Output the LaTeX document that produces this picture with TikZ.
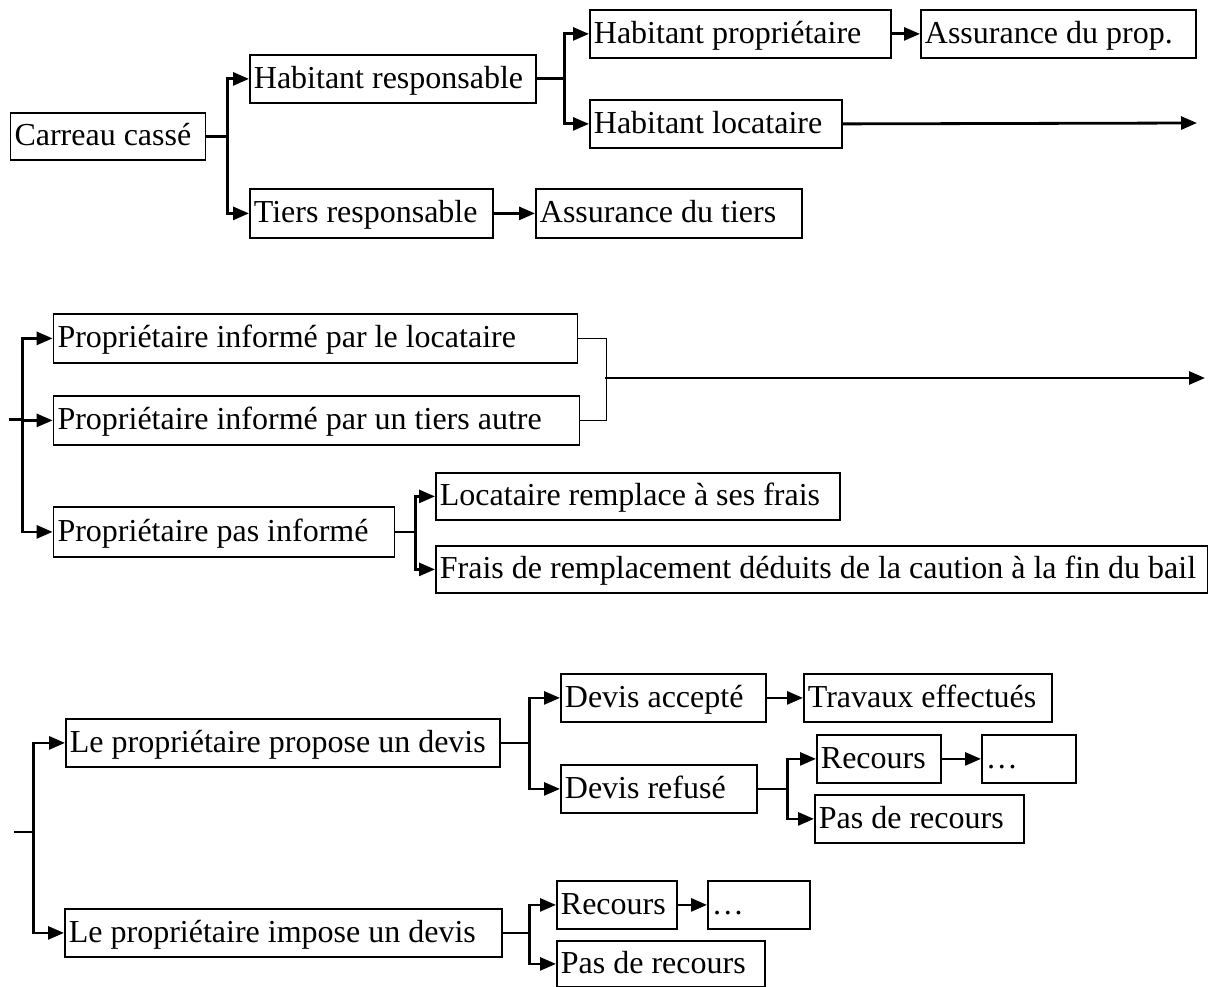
\documentclass[tikz,border=0pt]{standalone}
\usepackage{fontspec}
\setmainfont{Liberation Serif}
\usetikzlibrary{arrows.meta}
\newcommand\lbx[2]{\makebox[#1pt][l]{#2}}
\begin{document}
\begin{tikzpicture}[x=1pt,y=-1pt,
  bx/.style={draw, line width=1.8pt, inner xsep=4pt, inner ysep=0pt, anchor=north west,
    font=\fontsize{32}{38}\selectfont, text height=26pt, text depth=7pt},
  conn/.style={line width=2.8pt},
  thinconn/.style={line width=1.6pt},
  arr/.style={line width=2.8pt, -{Triangle[length=16pt,width=13pt]}},
]
\useasboundingbox (0,0) rectangle (1208,987);

% Section 1
\node[bx, minimum height=47pt] (carreau) at (9.6,112) {\lbx{187}{Carreau cassé}};
\node[bx, minimum height=48pt] (hresp) at (249,54) {\lbx{278}{Habitant responsable}};
\node[bx, minimum height=49pt] (tiers) at (249,188) {\lbx{235}{Tiers responsable}};
\node[bx, minimum height=49pt] (asstiers) at (535,188) {\lbx{258}{Assurance du tiers}};
\node[bx, minimum height=48pt] (hprop) at (589,9) {\lbx{293}{Habitant propriétaire}};
\node[bx, minimum height=48pt] (assprop) at (920,9) {\lbx{267}{Assurance du prop.}};
\node[bx, minimum height=48pt] (hloc) at (589,99) {\lbx{244}{Habitant locataire}};

\draw[arr] (carreau.east) -- ++(21,0) |- (hresp.west);
\draw[arr] (carreau.east) -- ++(21,0) |- (tiers.west);
\draw[arr] (tiers.east) -- (asstiers.west);
\draw[arr] (hresp.east) -- ++(28,0) |- (hprop.west);
\draw[arr] (hresp.east) -- ++(28,0) |- (hloc.west);
\draw[arr] (hprop.east) -- (assprop.west);
\coordinate (e1) at (1197,123);
\draw[arr] (hloc.east) -- (e1);

% Section 2
\node[bx, minimum height=49pt] (pil) at (52.6,313) {\lbx{516}{Propriétaire informé par le locataire}};
\node[bx, minimum height=49pt] (pit) at (52.6,395) {\lbx{518}{Propriétaire informé par un tiers autre}};
\node[bx, minimum height=50pt] (ppi) at (52.6,506) {\lbx{333}{Propriétaire pas informé}};
\node[bx, minimum height=47pt] (lrem) at (435,472) {\lbx{396}{Locataire remplace à ses frais}};
\node[bx, minimum height=47pt] (frais) at (435,545) {\lbx{764}{Frais de remplacement déduits de la caution à la fin du bail}};

\coordinate (s2) at (8.7,419.5);
\coordinate (j2) at (22.5,419.5);
\draw[conn] (s2) -- (j2);
\draw[arr] (j2) |- (pil.west);
\draw[arr] (j2) |- (pit.west);
\draw[arr] (j2) |- (ppi.west);
\draw[thinconn] (pil.east) -- ++(28,0) |- (pit.east);
\coordinate (b2) at (605,378);
\coordinate (e2) at (1205,378);
\draw[arr] (b2) -- (e2);
\draw[arr] (ppi.east) -- ++(20,0) |- (lrem.west);
\draw[arr] (ppi.east) -- ++(20,0) |- (frais.west);

% Section 3
\node[bx, minimum height=48pt] (ppd) at (65,718) {\lbx{426}{Le propriétaire propose un devis}};
\node[bx, minimum height=48pt] (pid) at (64,908) {\lbx{429}{Le propriétaire impose un devis}};
\node[bx, minimum height=48pt] (dacc) at (560,673) {\lbx{197}{Devis accepté}};
\node[bx, minimum height=48pt] (trav) at (803,673) {\lbx{240}{Travaux effectués}};
\node[bx, minimum height=48pt] (dref) at (560,764) {\lbx{188}{Devis refusé}};
\node[bx, minimum height=48pt] (rec1) at (816,734) {\lbx{116}{Recours}};
\node[bx, minimum height=48pt] (dots1) at (981,734) {\lbx{86}{…}};
\node[bx, minimum height=48pt] (pdr1) at (814,794) {\lbx{201}{Pas de recours}};
\node[bx, minimum height=48pt] (rec2) at (556,880) {\lbx{112}{Recours}};
\node[bx, minimum height=48pt] (dots2) at (707,880) {\lbx{94}{…}};
\node[bx, minimum height=46pt] (pdr2) at (556,940) {\lbx{200}{Pas de recours}};

\coordinate (s3) at (14,832);
\coordinate (j3) at (33.6,832);
\draw[conn] (s3) -- (j3);
\draw[arr] (j3) |- (ppd.west);
\draw[arr] (j3) |- (pid.west);
\draw[arr] (ppd.east) -- ++(29,0) |- (dacc.west);
\draw[arr] (ppd.east) -- ++(29,0) |- (dref.west);
\draw[arr] (dacc.east) -- (trav.west);
\draw[arr] (dref.east) -- ++(30,0) |- (rec1.west);
\draw[arr] (dref.east) -- ++(30,0) |- (pdr1.west);
\draw[arr] (rec1.east) -- (dots1.west);
\draw[arr] (pid.east) -- ++(27,0) |- (rec2.west);
\draw[arr] (pid.east) -- ++(27,0) |- (pdr2.west);
\draw[arr] (rec2.east) -- (dots2.west);
\end{tikzpicture}
\end{document}
